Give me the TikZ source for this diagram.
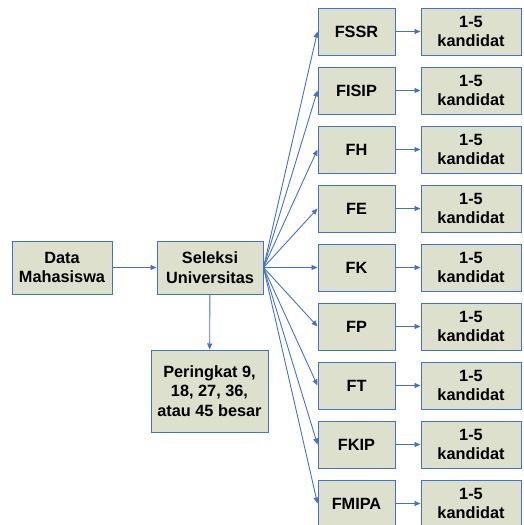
\documentclass[tikz,border=0pt]{standalone}
\usepackage{fontspec}
\setmainfont{Liberation Sans}
\usetikzlibrary{arrows.meta}
\definecolor{boxfill}{HTML}{DDE0CC}
\definecolor{boxline}{HTML}{4472C4}
\begin{document}
\begin{tikzpicture}[x=1pt,y=-1pt,
  box/.style={draw=boxline,fill=boxfill,line width=1pt,inner sep=0pt,align=center,
    font=\fontsize{16.3}{19.5}\selectfont\bfseries},
  conn/.style={draw=boxline,line width=0.9pt,-{Triangle[length=6pt,width=5pt]}}]
\useasboundingbox (0,0) rectangle (524,525);
\node[box,minimum width=100pt,minimum height=53pt] (data) at (62,267.5) {Data\\Mahasiswa};
\node[box,minimum width=106pt,minimum height=53pt] (sel) at (210,267.5) {Seleksi\\Universitas};
\node[box,minimum width=117pt,minimum height=82pt] (per) at (209.5,391) {Peringkat 9,\\18, 27, 36,\\atau 45 besar};
\draw[conn] (data) -- (sel);
\draw[conn] (sel) -- (per);
\foreach \n [count=\i from 0] in {FSSR,FISIP,FH,FE,FK,FP,FT,FKIP,FMIPA} {
  \node[box,minimum width=77pt,minimum height=47pt] (f\i) at (356.5,31.5+59*\i) {\n};
  \node[box,minimum width=100pt,minimum height=47pt] (k\i) at (471,31.5+59*\i) {1-5\\kandidat};
  \draw[conn] (sel.east) -- (f\i.west);
  \draw[conn] (f\i) -- (k\i);
}
\end{tikzpicture}
\end{document}
